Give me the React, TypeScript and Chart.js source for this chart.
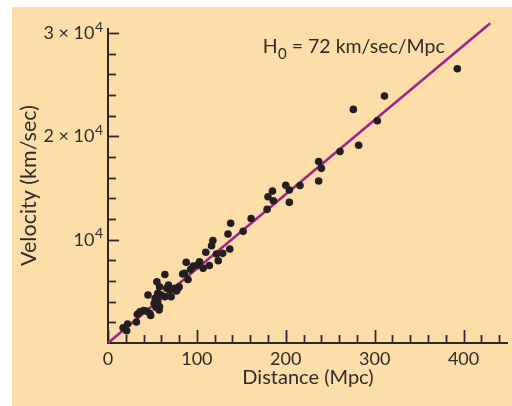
import React, { useEffect, useRef } from "react";
import { Chart, registerables } from "chart.js";

Chart.register(...registerables);

// Galaxy distances (Mpc) and recession velocities (km/sec)
const distances = [
  17, 21, 22, 32, 33, 36, 40, 43, 47, 48, 45, 53, 55, 56, 58, 57.5, 60, 56, 55, 58,
  64, 64, 66, 68, 71, 69.5, 75, 79, 77, 80, 84, 86, 88, 90, 96, 103, 107, 101, 93, 114,
  124, 110, 122, 129, 137, 116.5, 118, 135, 138, 152, 161, 179, 186, 180, 185, 204, 204, 200, 216, 237,
  240, 237, 261, 282, 303, 276, 311, 393, 52, 54,
];
const velocities = [
  1480, 1190, 1840, 2030, 2780, 3030, 3150, 3100, 2880, 2660, 4650, 4330, 3680, 4000, 3510, 3190, 4650, 4810, 5930, 5450,
  6630, 4480, 5300, 5610, 4480, 5130, 5300, 5300, 5030, 5450, 6680, 6750, 7810, 6150, 7450, 7870, 7230, 7550, 7130, 7500,
  7970, 8780, 8620, 8680, 9100, 9420, 9920, 10550, 11590, 10810, 12050, 12940, 13780, 14160, 14710, 13620, 14810, 15270, 15250, 15680,
  16910, 17570, 18540, 19140, 21520, 22620, 23910, 26550, 3850, 3450,
];

const hubbleConstant = 72; // km/sec/Mpc
const fitDistances = [0, 430];

const xMin = 0;
const xMax = 450;
const yMin = 0;
const yMax = 30500;
const xMajorTicks = [0, 100, 200, 300, 400];
const xMajorLabels = ["0", "100", "200", "300", "400"];
const xMinorStep = 20;
const xMinorLast = 440;
const yMajorTicks = [10000, 20000, 30000];
const yLabelBase = ["10", "2 \u00d7 10", "3 \u00d7 10"];
const yLabelExp = ["4", "4", "4"];
const yMinorStep = 2000;
const yMinorLast = 30000;

const annotationText = { main: "H", sub: "0", rest: " = 72 km/sec/Mpc" };
const annotationAt = { x: 174, y: 28040 };

const xTitle = "Distance (Mpc)";
const yTitle = "Velocity (km/sec)";

const FONT = "Lato, 'Open Sans', sans-serif";
const TEXT_COLOR = "#2f2b2a";
const AXIS_COLOR = "#2b2827";
const BG = "#fddea8";

const axesPlugin = {
  id: "inwardAxes",
  beforeDatasetsDraw(chart: any) {
    const { ctx, chartArea } = chart;
    const xs = chart.scales.x;
    const ys = chart.scales.y;
    ctx.save();
    ctx.strokeStyle = AXIS_COLOR;
    ctx.lineWidth = 2;
    ctx.lineCap = "butt";
    ctx.beginPath();
    ctx.moveTo(chartArea.left, chartArea.top);
    ctx.lineTo(chartArea.left, chartArea.bottom);
    ctx.lineTo(chartArea.right, chartArea.bottom);
    ctx.stroke();
    ctx.lineWidth = 1.8;
    for (let v = xMin; v <= xMinorLast; v += xMinorStep) {
      const px = Math.round(xs.getPixelForValue(v)) + 0.5;
      const len = xMajorTicks.includes(v) ? 13 : 8;
      ctx.beginPath();
      ctx.moveTo(px, chartArea.bottom);
      ctx.lineTo(px, chartArea.bottom - len);
      ctx.stroke();
    }
    for (let v = yMinorStep; v <= yMinorLast; v += yMinorStep) {
      const py = Math.round(ys.getPixelForValue(v)) + 0.5;
      const len = yMajorTicks.includes(v) ? 11 : 8;
      ctx.beginPath();
      ctx.moveTo(chartArea.left, py);
      ctx.lineTo(chartArea.left + len, py);
      ctx.stroke();
    }
    // y tick labels with superscript exponents
    ctx.fillStyle = TEXT_COLOR;
    yMajorTicks.forEach((v, i) => {
      const py = ys.getPixelForValue(v);
      const right = chartArea.left - 5;
      ctx.font = `14px ${FONT}`;
      ctx.textAlign = "right";
      ctx.textBaseline = "alphabetic";
      const ew = ctx.measureText(yLabelExp[i]).width;
      ctx.fillText(yLabelExp[i], right, py - 1.5);
      ctx.font = `18px ${FONT}`;
      ctx.textBaseline = "middle";
      ctx.fillText(yLabelBase[i], right - ew - 0.5, py);
    });
    ctx.restore();
  },
  afterDraw(chart: any) {
    const { ctx } = chart;
    const xs = chart.scales.x;
    const ys = chart.scales.y;
    const x0 = xs.getPixelForValue(annotationAt.x);
    const y0 = ys.getPixelForValue(annotationAt.y);
    ctx.save();
    ctx.fillStyle = TEXT_COLOR;
    ctx.textBaseline = "alphabetic";
    ctx.textAlign = "left";
    ctx.font = `19.5px ${FONT}`;
    ctx.fillText(annotationText.main, x0, y0);
    let x = x0 + ctx.measureText(annotationText.main).width + 0.5;
    ctx.font = `15px ${FONT}`;
    ctx.fillText(annotationText.sub, x, y0 + 6);
    x += ctx.measureText(annotationText.sub).width;
    ctx.font = `19.5px ${FONT}`;
    ctx.fillText(annotationText.rest, x, y0);
    ctx.restore();
  },
};

export default function App() {
  const ref = useRef<HTMLCanvasElement | null>(null);

  useEffect(() => {
    if (!ref.current) return;
    const points = distances.map((d, i) => ({ x: d, y: velocities[i] }));
    const fit = fitDistances.map((d) => ({ x: d, y: d * hubbleConstant }));
    const chart = new Chart(ref.current, {
      type: "scatter",
      data: {
        datasets: [
          {
            data: fit,
            showLine: true,
            borderColor: "#a1228c",
            borderWidth: 2.6,
            pointRadius: 0,
            clip: false as any,
            order: 2,
          },
          {
            data: points,
            backgroundColor: "#231f20",
            borderWidth: 0,
            pointRadius: 3.8,
            order: 1,
          },
        ],
      },
      options: {
        responsive: false,
        animation: false,
        devicePixelRatio: 1,
        layout: { padding: { top: 21, right: 2, left: 0, bottom: 0 } },
        plugins: { legend: { display: false }, tooltip: { enabled: false } },
        scales: {
          x: {
            type: "linear",
            min: xMin,
            max: xMax,
            grid: { display: false, drawTicks: false },
            border: { display: false },
            afterBuildTicks: (scale: any) => {
              scale.ticks = xMajorTicks.map((v) => ({ value: v }));
            },
            afterFit: (scale: any) => {
              scale.height = 63;
            },
            ticks: {
              autoSkip: false,
              maxRotation: 0,
              padding: 5,
              color: TEXT_COLOR,
              font: { family: FONT, size: 18 },
              callback: (v: any) => {
                const i = xMajorTicks.indexOf(Number(v));
                return i >= 0 ? xMajorLabels[i] : "";
              },
            },
            title: {
              display: true,
              text: xTitle,
              color: TEXT_COLOR,
              font: { family: FONT, size: 20 },
              padding: { top: 0, bottom: 16 },
            },
          },
          y: {
            type: "linear",
            min: yMin,
            max: yMax,
            grid: { display: false, drawTicks: false },
            border: { display: false },
            afterBuildTicks: (scale: any) => {
              scale.ticks = yMajorTicks.map((v) => ({ value: v }));
            },
            afterFit: (scale: any) => {
              scale.width = 96;
            },
            ticks: { display: false },
            title: {
              display: true,
              text: yTitle,
              color: TEXT_COLOR,
              font: { family: FONT, size: 21.5 },
              padding: { top: 4, bottom: 0 },
            },
          },
        },
      },
      plugins: [axesPlugin],
    });
    return () => chart.destroy();
  }, []);

  return (
    <div style={{ position: "fixed", left: 0, top: 0, width: 512, height: 406, background: "#ffffff" }}>
      <canvas
        ref={ref}
        width={500}
        height={399}
        style={{ position: "absolute", left: 12, top: 7, width: 500, height: 399, background: BG }}
      />
    </div>
  );
}
